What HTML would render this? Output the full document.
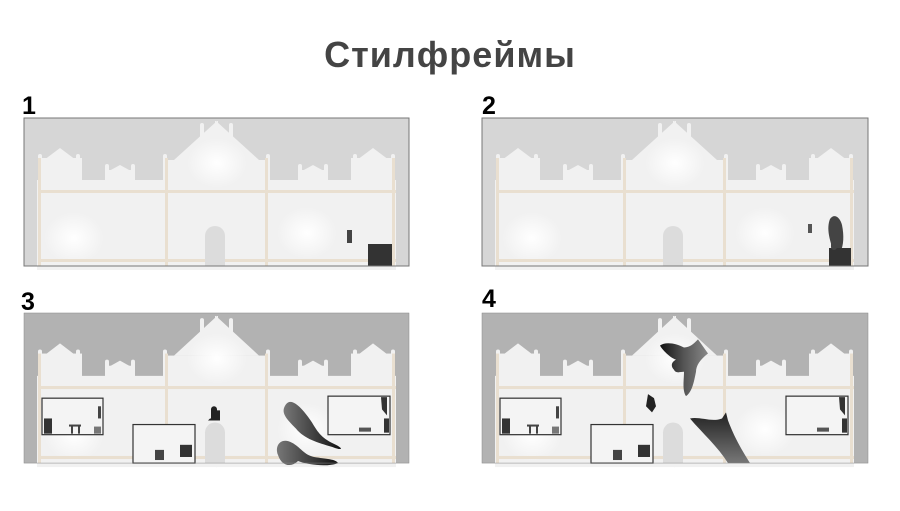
<!DOCTYPE html>
<html><head><meta charset="utf-8"><style>
body{margin:0;background:#fff;width:900px;height:506px;overflow:hidden}
</style></head><body>
<svg width="900" height="506" viewBox="0 0 900 506" xmlns="http://www.w3.org/2000/svg">
<defs>
<radialGradient id="glow"><stop offset="0" stop-color="#fff" stop-opacity="1"/><stop offset="1" stop-color="#fff" stop-opacity="0"/></radialGradient>
<linearGradient id="sh" x1="0" y1="0" x2="1" y2="0"><stop offset="0" stop-color="#777"/><stop offset="1" stop-color="#111"/></linearGradient>
<linearGradient id="sh2" x1="0" y1="0" x2="0" y2="1"><stop offset="0" stop-color="#222"/><stop offset="1" stop-color="#777"/></linearGradient>
<linearGradient id="sh3" x1="0" y1="0" x2="1" y2="0"><stop offset="0" stop-color="#111"/><stop offset="0.5" stop-color="#555"/><stop offset="1" stop-color="#888"/></linearGradient>
<g id="half">
  <rect x="13" y="62" width="180" height="90" />
  <rect x="14" y="40" width="44" height="24"/>
  <polygon points="20,42 36,30 52,42"/>
  <rect x="14" y="36" width="4" height="10" rx="2"/>
  <rect x="52" y="36" width="4" height="10" rx="2"/>
  <rect x="81" y="52" width="30" height="12"/>
  <polygon points="85,53 96,47 107,53"/>
  <rect x="81" y="46" width="4" height="8" rx="2"/>
  <rect x="107" y="46" width="4" height="8" rx="2"/>
  <rect x="139" y="42" width="55" height="32"/>
  <rect x="139" y="36" width="4" height="10" rx="2"/>
  <polygon points="150,42 193,3 194,3 194,42"/>
  <rect x="176" y="5" width="4" height="26" rx="2"/>
</g>
<g id="bld">
  <g fill="#f1f1f1"><use href="#half"/><use href="#half" transform="translate(385,0) scale(-1,1)"/></g>
  <ellipse cx="193" cy="45" rx="30" ry="25" fill="url(#glow)"/>
  <ellipse cx="50" cy="120" rx="30" ry="26" fill="url(#glow)"/>
  <ellipse cx="283" cy="115" rx="30" ry="26" fill="url(#glow)"/>
  <g fill="#e9dfd0">
    <rect x="14" y="72" width="358" height="3"/>
    <rect x="14" y="141" width="358" height="3"/>
    <rect x="14" y="40" width="3" height="108"/>
    <rect x="141" y="40" width="3" height="108"/>
    <rect x="241" y="40" width="3" height="108"/>
    <rect x="368" y="40" width="3" height="108"/>
  </g>
  <path d="M181,148 V118 a10,10 0 0 1 20,0 V148 Z" fill="#dcdcdc"/>
</g>
<g id="rooms">
  <rect x="18" y="84" width="61" height="36" fill="#f4f4f4" stroke="#333" stroke-width="1.2"/>
  <rect x="20" y="104" width="8" height="15" fill="#333"/><rect x="45" y="110" width="12" height="2" fill="#444"/><rect x="47" y="111" width="2" height="8" fill="#444"/><rect x="54" y="111" width="2" height="8" fill="#444"/>
  <rect x="74" y="92" width="3" height="12" fill="#444"/><rect x="70" y="112" width="7" height="7" fill="#777"/>
  <rect x="109" y="110" width="62" height="38" fill="#f4f4f4" stroke="#333" stroke-width="1.2"/>
  <rect x="131" y="135" width="9" height="10" fill="#444"/><rect x="156" y="130" width="12" height="12" fill="#333"/>
  <rect x="304" y="82" width="62" height="38" fill="#f4f4f4" stroke="#333" stroke-width="1.2"/>
  <path d="M357,83 l6,0 l0,18 l-5,-6 z" fill="#333"/><rect x="360" y="104" width="5" height="14" fill="#333"/><rect x="335" y="113" width="12" height="4" fill="#555"/>
</g>
</defs>
<text x="450" y="67" text-anchor="middle" font-family="Liberation Sans, sans-serif" font-weight="bold" font-size="36" letter-spacing="1" fill="#444">Стилфреймы</text>
<g font-family="Liberation Sans, sans-serif" font-weight="bold" font-size="25" fill="#000">
<text x="22" y="114">1</text><text x="482" y="114">2</text><text x="21" y="310">3</text><text x="482" y="307">4</text>
</g>
<!-- panel 1 -->
<g transform="translate(24,118)">
  <rect width="385" height="148" fill="#d6d6d6"/>
  <use href="#bld"/>
  <rect x="323" y="112" width="5" height="13" fill="#444"/>
  <rect x="344" y="126" width="24" height="22" fill="#333"/>
  <rect width="385" height="148" fill="none" stroke="#777" stroke-width="1"/>
</g>
<!-- panel 2 -->
<g transform="translate(482,118)">
  <rect width="386" height="148" fill="#d6d6d6"/>
  <use href="#bld"/>
  <rect x="326" y="106" width="4" height="9" fill="#555"/>
  <path d="M352,135 c-4,-12 -8,-24 -4,-34 c4,-6 10,-2 12,6 c2,10 2,20 -2,28 z" fill="#444"/>
  <rect x="347" y="130" width="22" height="18" fill="#333"/>
  <rect x="349" y="118" width="6" height="14" rx="3" fill="#444"/>
  <rect width="386" height="148" fill="none" stroke="#777" stroke-width="1"/>
</g>
<!-- panel 3 -->
<g transform="translate(24,313) scale(1,1.014)">
  <rect width="385" height="148" fill="#b2b2b2"/>
  <use href="#bld"/>
  <use href="#rooms"/>
  <path d="M186,104 h6 v-8 h4 v10 h-12 z M187,95 a3,3 0 1 1 6,0 v10 h-6 z" fill="#222"/>
  <path d="M262,90 c6,-8 18,6 26,18 c6,10 10,16 24,22 c8,4 6,6 -4,2 c-14,-4 -28,-8 -36,-18 c-10,-10 -16,-16 -10,-24 z" fill="url(#sh)"/>
  <path d="M254,140 c-4,-10 4,-18 14,-12 c8,4 12,12 22,14 c12,2 22,2 24,6 c-10,4 -30,2 -40,-2 c-6,6 -16,6 -20,-6 z" fill="url(#sh)"/>
  <rect width="385" height="148" fill="none" stroke="#888" stroke-width="0.5"/>
</g>
<!-- panel 4 -->
<g transform="translate(482,313) scale(1,1.014)">
  <rect width="386" height="148" fill="#b2b2b2"/>
  <use href="#bld"/>
  <use href="#rooms"/>
  <path d="M178,32 c6,-4 16,-2 24,2 c6,0 10,-4 14,-8 l10,14 c-8,6 -12,12 -12,18 c-2,10 -4,20 -10,24 c-4,-6 -2,-16 -2,-24 c-4,0 -8,2 -10,-2 c-4,-4 -2,-8 2,-10 c-6,-2 -14,-10 -16,-14 z" fill="url(#sh3)"/>
  <path d="M166,80 l6,4 l2,8 l-4,6 l-6,-6 z" fill="#222"/>
  <path d="M208,104 c10,-2 22,4 32,0 l4,-6 l2,8 c4,10 8,20 22,42 l-22,0 c-10,-16 -26,-30 -38,-44 z" fill="url(#sh2)"/>
  <rect width="386" height="148" fill="none" stroke="#888" stroke-width="0.5"/>
</g>
</svg>
</body></html>
